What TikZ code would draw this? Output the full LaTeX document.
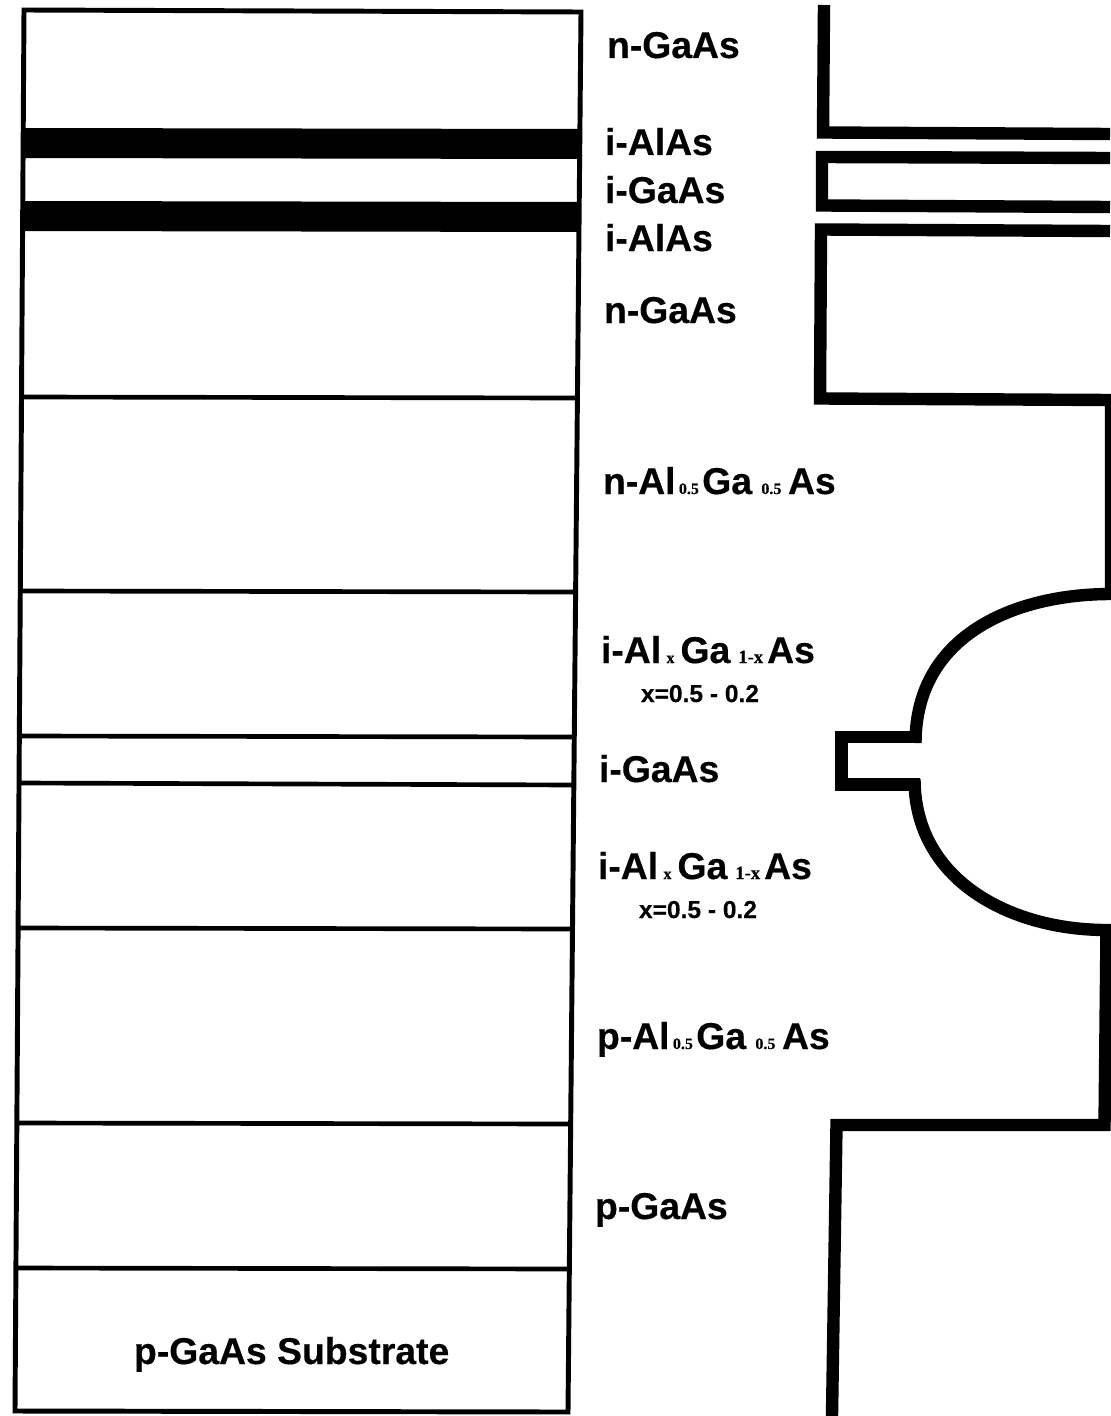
\documentclass[tikz,border=0pt]{standalone}
\usepackage{fontspec}
\setmainfont{Liberation Sans}[BoldFeatures={FakeBold=0.35}]
\newfontfamily\subfont{Liberation Serif}[BoldFeatures={FakeBold=0.35}]
\newcommand{\lbl}[1]{\fontsize{28pt}{30pt}\selectfont\bfseries #1}
\newcommand{\sbs}[1]{{\subfont\fontsize{12pt}{13pt}\selectfont\bfseries #1}}
\newcommand{\sbx}[1]{{\subfont\fontsize{14pt}{15pt}\selectfont\bfseries #1}}
\tikzset{
  x=0.75pt, y=-0.75pt,
  layerline/.style={draw=black, line width=3.5pt, line cap=butt},
  frame/.style={draw=black, line width=3.7pt, line join=miter},
  barfill/.style={fill=black, draw=none},
  profile/.style={draw=black, line width=9.3pt, line join=miter, line cap=butt},
  lab/.style={anchor=base west, inner sep=0pt, outer sep=0pt, font=\lbl},
  smalllab/.style={anchor=base west, inner sep=0pt, outer sep=0pt, font=\fontsize{18.4pt}{20pt}\selectfont\bfseries},
}
\begin{document}
\begin{tikzpicture}
\useasboundingbox (0,0) rectangle (1110,1416);
\fill[white] (0,0) rectangle (1110,1416);
% stack
\draw[frame] (24,10) -- (581,12) -- (568,1412) -- (15,1411) -- cycle;
\fill[barfill] (23,128) -- (580,129) -- (580,159) -- (23,158) -- cycle;
\fill[barfill] (23,201) -- (580,202) -- (580,232) -- (23,231) -- cycle;
\draw[layerline] (22,397) -- (578,398);
\draw[layerline] (21,591) -- (577,592);
\draw[layerline] (20,736) -- (575,737);
\draw[layerline] (20,783) -- (575,785);
\draw[layerline] (19,928) -- (574,929);
\draw[layerline] (18,1123) -- (572,1124);
\draw[layerline] (16,1268) -- (571,1269);
% labels
\node[lab] (l1) at (607,58) {n-GaAs};
\node[lab] (l2) at (605,155) {i-AlAs};
\node[lab] (l3) at (605,203) {i-GaAs};
\node[lab] (l4) at (605,251) {i-AlAs};
\node[lab] (l5) at (604,323) {n-GaAs};
\node[lab] (l6) at (603,494) {n-Al\hspace{2.5pt}\sbs{0.5}\hspace{2.5pt}Ga\hspace{7pt}\sbs{0.5}\hspace{5pt}As};
\node[lab] (l7) at (601,663) {i-Al\hspace{4pt}\sbs{x}\hspace{4.5pt}Ga\hspace{6pt}\sbx{1-x}\hspace{3pt}As};
\node[smalllab] (l8) at (641,702) {x=0.5 - 0.2};
\node[lab] (l9) at (599,782) {i-GaAs};
\node[lab] (l10) at (598,879) {i-Al\hspace{4pt}\sbs{x}\hspace{4.5pt}Ga\hspace{6pt}\sbx{1-x}\hspace{3pt}As};
\node[smalllab] (l11) at (639,918) {x=0.5 - 0.2};
\node[lab] (l12) at (597,1049) {p-Al\hspace{2.5pt}\sbs{0.5}\hspace{2.5pt}Ga\hspace{7pt}\sbs{0.5}\hspace{5pt}As};
\node[lab] (l13) at (595,1219) {p-GaAs};
\node[lab] (l14) at (134,1364) {p-GaAs Substrate};
% profile
\draw[profile] (824,5) -- (823,132.5) -- (1110,134);
\draw[profile] (1110,158) -- (822,157) -- (822,205.5) -- (1110,207);
\draw[profile] (1110,231) -- (821,229.5) -- (820,398.5) -- (1111,400) -- (1111,594)
  .. controls (1015,594) and (915.5,635) .. (915.5,743);
\draw[profile] (921,737) -- (841.5,737) -- (841.5,784.5) -- (920,784.5);
\draw[profile] (914.5,779) .. controls (914.5,880) and (1010,930) .. (1106.5,930) -- (1104.5,1125) -- (836.5,1125) -- (832,1416);
\end{tikzpicture}
\end{document}
